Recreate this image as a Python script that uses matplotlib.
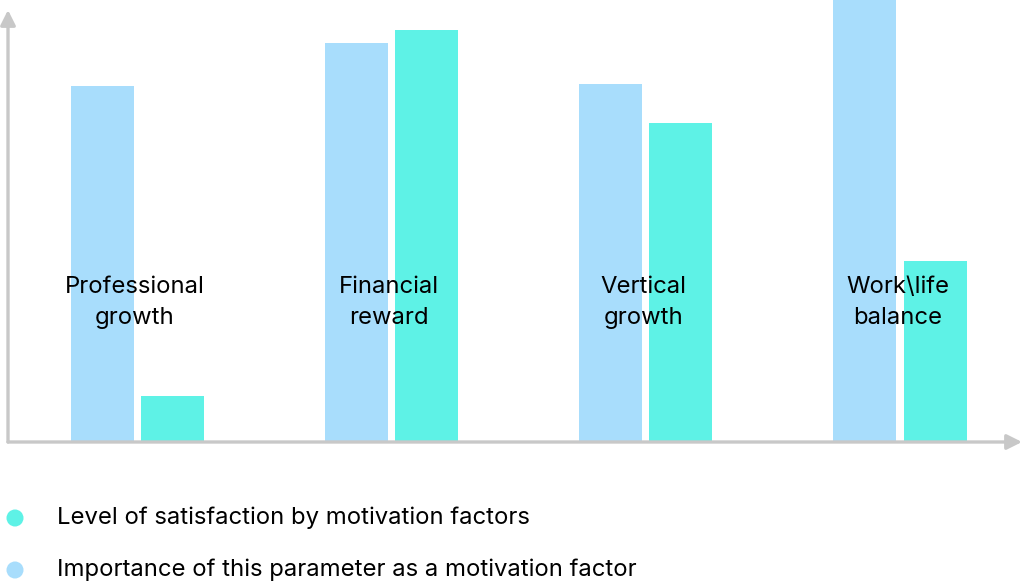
import matplotlib.pyplot as plt
import numpy as np

categories = ["Professional\ngrowth", "Financial\nreward", "Vertical\ngrowth", "Work\\life\nbalance"]
importance = [80.5, 90.3, 81.0, 104.0]
satisfaction = [10.4, 93.2, 72.2, 41.0]
legend_labels = ["Level of satisfaction by motivation factors",
                 "Importance of this parameter as a motivation factor"]

blue = "#A8DDFC"
teal = "#5EF2E6"
grey = "#C8C8C8"

plt.rcParams['font.family'] = ['Inter', 'DejaVu Sans']

W, H = 1024, 588
fig = plt.figure(figsize=(W / 100, H / 100), dpi=100)

# main axes: from x=8px to 1022px, y from 0px to 442px
ax = fig.add_axes([8 / W, (H - 442) / H, (1022 - 8) / W, 442 / H])
ax.set_xlim(-0.51, 3.48)
ax.set_ylim(0, 100)
ax.axis("off")

x = np.arange(len(categories))
width = 0.248
off = 0.138
ax.bar(x - off, importance, width, color=blue)
ax.bar(x + off, satisfaction, width, color=teal)

for xi, lab in zip(x, categories):
    ax.text(xi - 0.01, 31.5, lab, ha="center", va="center", fontsize=17.2,
            color="black", linespacing=1.55)

# axis arrows
arrow = dict(arrowstyle="-|>,head_length=0.9,head_width=0.45", color=grey,
             lw=2.4, shrinkA=0, shrinkB=0)
ax.annotate("", xy=(0, 1 - 10 / 442), xytext=(0, 0),
            xycoords="axes fraction", arrowprops=arrow, annotation_clip=False)
ax.annotate("", xy=(1, 0), xytext=(0, 0),
            xycoords="axes fraction", arrowprops=arrow, annotation_clip=False)

# legend area in pixel coordinates
lax = fig.add_axes([0, 0, 1, (H - 460) / H])
lax.set_xlim(0, W)
lax.set_ylim(H, 460)
lax.axis("off")
for yy, col, lab in zip([518, 570], [teal, blue], legend_labels):
    lax.scatter([15], [yy], s=150, color=col, edgecolors="none")
    lax.text(57, yy, lab, ha="left", va="center", fontsize=17.2, color="black")

fig.savefig("out.png", dpi=100)
